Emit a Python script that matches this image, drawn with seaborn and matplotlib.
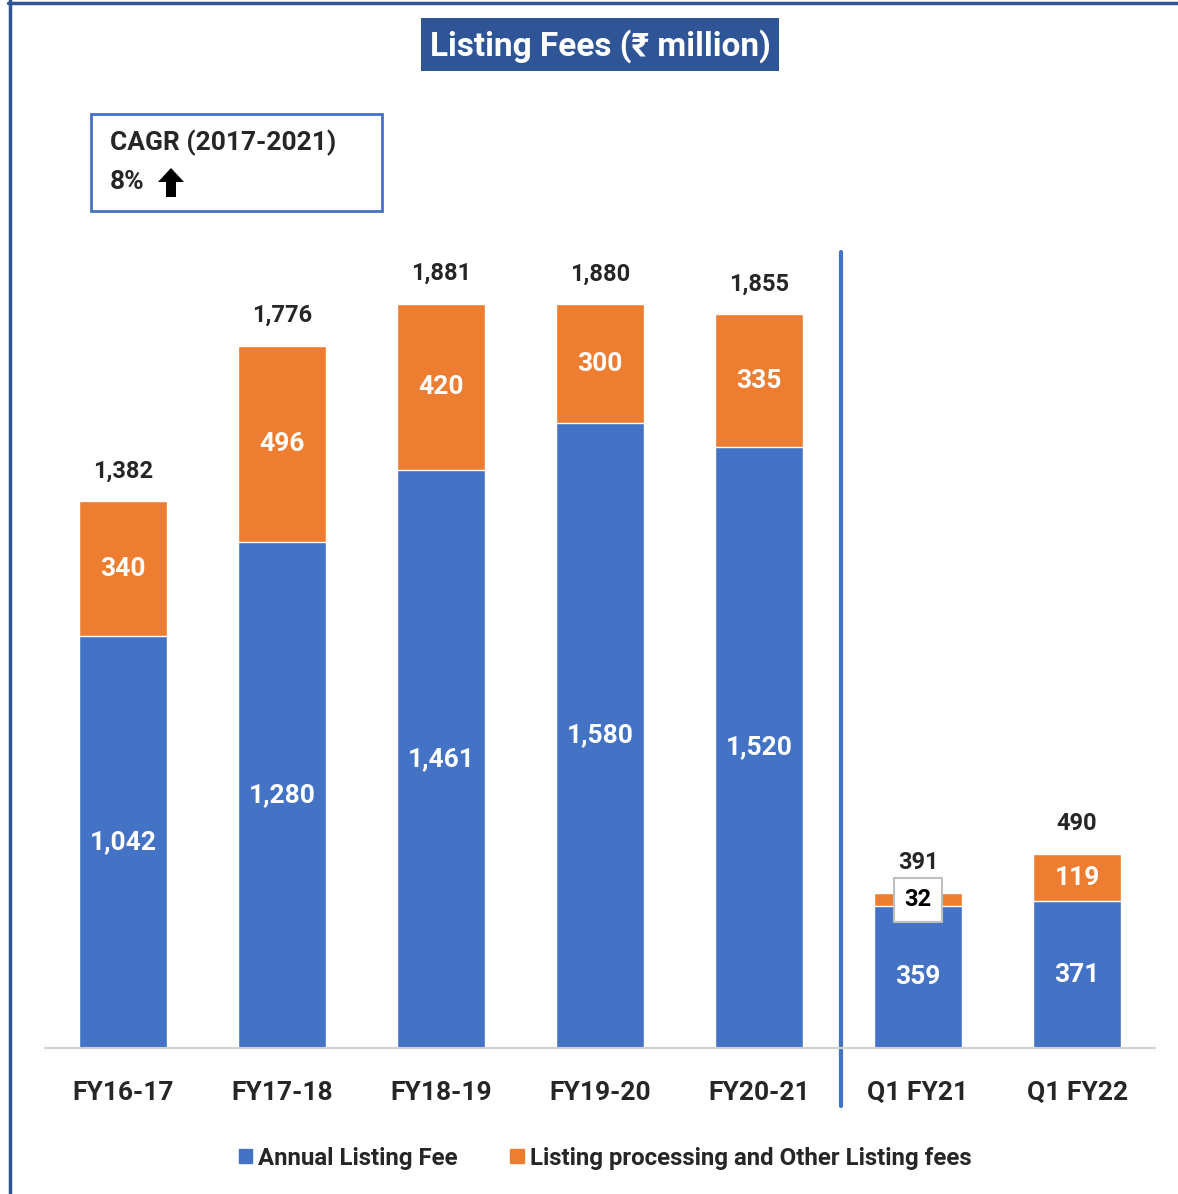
import numpy as np
import pandas as pd
import matplotlib
matplotlib.use("Agg")
import matplotlib.pyplot as plt
from matplotlib.patches import Rectangle, Polygon
from matplotlib.lines import Line2D
import seaborn as sns

categories = ["FY16-17", "FY17-18", "FY18-19", "FY19-20", "FY20-21", "Q1 FY21", "Q1 FY22"]
annual_fee = [1042, 1280, 1461, 1580, 1520, 359, 371]
other_fee = [340, 496, 420, 300, 335, 32, 119]
series_names = ["Annual Listing Fee", "Listing processing and Other Listing fees"]

BLUE = "#4472C4"
ORANGE = "#ED7D31"
DARK = "#2F5597"

df = pd.DataFrame({"cat": categories, "annual": annual_fee, "other": other_fee})
df["total"] = df["annual"] + df["other"]

sns.set_style("white")
plt.rcParams["font.family"] = ["Roboto", "DejaVu Sans"]

W, H = 1178, 1194
fig = plt.figure(figsize=(W / 100, H / 100), dpi=100)
ax = fig.add_axes([45 / W, 1 - 1048 / H, 1110 / W, 948 / H])

bw = 0.553
sns.barplot(data=df, x="cat", y="total", color=ORANGE, width=bw, saturation=1,
            ax=ax, errorbar=None)
sns.barplot(data=df, x="cat", y="annual", color=BLUE, width=bw, saturation=1,
            ax=ax, errorbar=None)

ax.set_xlim(-0.49, 6.49)
ax.set_ylim(0, 2397)
ax.set_xlabel("")
ax.set_ylabel("")
ax.set_yticks([])
for s in ["top", "right", "left"]:
    ax.spines[s].set_visible(False)
ax.spines["bottom"].set_color("#D0D0D0")
ax.spines["bottom"].set_linewidth(1.5)
ax.tick_params(axis="x", length=0, pad=24, labelsize=19)
for lbl in ax.get_xticklabels():
    lbl.set_fontweight("bold")

# value labels
for i, row in df.iterrows():
    ax.text(i, row["annual"] / 2, f"{row['annual']:,}", ha="center", va="center",
            color="white", fontsize=19, fontweight="bold")
    mid = row["annual"] + row["other"] / 2
    if row["other"] < 60:
        ax.text(i, mid, f"{row['other']:,}", ha="center", va="center",
                color="black", fontsize=17, fontweight="bold",
                bbox=dict(boxstyle="square,pad=0.45", fc="white", ec="#BFBFBF", lw=1.5))
    else:
        ax.text(i, mid, f"{row['other']:,}", ha="center", va="center",
                color="white", fontsize=19, fontweight="bold")
    ax.annotate(f"{row['total']:,}", (i, row["total"]), xytext=(0, 22),
                textcoords="offset points", ha="center", va="center",
                fontsize=17, fontweight="bold")

# separator between annual and quarterly
ax.plot([4.515, 4.515], [-147, 2013], color=BLUE, lw=3, clip_on=False)

# title
fig.patches.append(Rectangle((421 / W, 1 - 71 / H), 358 / W, 53 / H, transform=fig.transFigure,
                             fc=DARK, ec="none"))
fig.text(600 / W, 1 - 46 / H, "Listing Fees (₹ million)", ha="center", va="center",
         color="white", fontsize=24, fontweight="bold")

# CAGR box
fig.patches.append(Rectangle((91 / W, 1 - 211 / H), 291 / W, 97 / H, transform=fig.transFigure,
                             fill=False, ec=BLUE, lw=2))
fig.text(110 / W, 1 - 143 / H, "CAGR (2017-2021)", ha="left", va="center",
         fontsize=19, fontweight="bold")
fig.text(110 / W, 1 - 182 / H, "8%", ha="left", va="center",
         fontsize=19, fontweight="bold")
# thick up arrow
arrow_px = [(171, 168), (184, 182), (176, 182), (176, 197), (166, 197), (166, 182), (158, 182)]
fig.patches.append(Polygon([(x / W, 1 - y / H) for x, y in arrow_px], closed=True,
                           transform=fig.transFigure, fc="black", ec="none"))

# frame lines
fig.add_artist(Line2D([9.5 / W, 9.5 / W], [0, 1], color=DARK, lw=2.5))
fig.add_artist(Line2D([8 / W, 1], [1 - 2.5 / H, 1 - 2.5 / H], color=DARK, lw=2.5))

# legend
handles = [Rectangle((0, 0), 1, 1, color=BLUE), Rectangle((0, 0), 1, 1, color=ORANGE)]
fig.legend(handles, series_names, loc="center", bbox_to_anchor=(605 / W, 1 - 1158 / H),
           ncol=2, frameon=False, handlelength=0.55, handleheight=0.55, handletextpad=0.25,
           columnspacing=2.2, prop={"size": 17.3, "weight": "bold"})

fig.savefig("out.png", dpi=100)
